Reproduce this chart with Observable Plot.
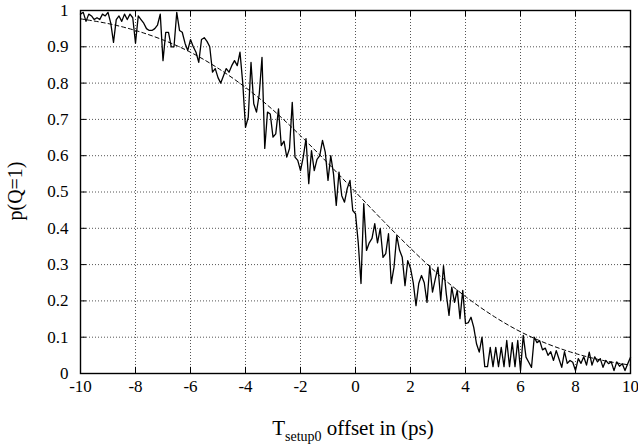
<!DOCTYPE html>
<html>
<head>
<meta charset="utf-8">
<script src="https://cdn.jsdelivr.net/npm/d3@7"></script>
<script src="https://cdn.jsdelivr.net/npm/@observablehq/plot@0.6"></script>
<style>
  html, body { margin: 0; padding: 0; background: #fff; }
  #chart svg { display: block; }
</style>
</head>
<body>
<div id="chart"></div>
<script>
// Measured series: p(Q=1) sampled every 0.1 ps from -10 to 10
const sampleStart = -10;
const sampleStep = 0.1;
const measured = [
  0.99, 0.995, 0.97, 0.99, 0.985, 0.975, 0.98, 0.975, 0.99, 0.985,
  0.995, 0.965, 0.912, 0.975, 0.985, 0.97, 0.99, 0.975, 0.99, 0.98,
  0.91, 0.985, 0.975, 0.965, 0.95, 0.945, 0.945, 0.95, 0.96, 0.99,
  0.862, 0.94, 0.94, 0.9, 0.9, 0.995, 0.945, 0.94, 0.91, 0.89,
  0.92, 0.9, 0.885, 0.857, 0.92, 0.925, 0.915, 0.9, 0.83, 0.84,
  0.815, 0.80, 0.82, 0.84, 0.83, 0.848, 0.862, 0.848, 0.885, 0.80,
  0.678, 0.706, 0.857, 0.743, 0.72, 0.77, 0.871, 0.62, 0.72, 0.715,
  0.651, 0.66, 0.729, 0.628, 0.64, 0.596, 0.62, 0.747, 0.596, 0.587,
  0.559, 0.596, 0.647, 0.523, 0.614, 0.559, 0.59, 0.6, 0.642, 0.61,
  0.532, 0.6, 0.55, 0.463, 0.555, 0.49, 0.472, 0.51, 0.532, 0.449,
  0.44, 0.36, 0.248, 0.468, 0.339, 0.36, 0.372, 0.413, 0.36, 0.4,
  0.32, 0.33, 0.385, 0.248, 0.293, 0.38, 0.34, 0.32, 0.242, 0.311,
  0.29, 0.25, 0.187, 0.248, 0.27, 0.25, 0.196, 0.297, 0.224, 0.26,
  0.293, 0.201, 0.297, 0.22, 0.16, 0.238, 0.196, 0.229, 0.151, 0.229,
  0.137, 0.14, 0.155, 0.127, 0.082, 0.059, 0.1, 0.019, 0.019, 0.072,
  0.019, 0.072, 0.019, 0.072, 0.019, 0.091, 0.019, 0.085, 0.019, 0.091,
  0.008, 0.105, 0.045, 0.031, 0.017, 0.1, 0.085, 0.09, 0.065, 0.07,
  0.05, 0.06, 0.036, 0.063, 0.04, 0.017, 0.06, 0.028, 0.036, 0.031,
  0.008, 0.041, 0.028, 0.046, 0.023, 0.059, 0.023, 0.046, 0.032, 0.041,
  0.017, 0.036, 0.027, 0.032, 0.008, 0.032, 0.02, 0.027, 0.008, 0.027,
  0.045
];

// Fitted (dashed) curve, read at integer offsets
const fitX = [-10, -9, -8, -7, -6, -5, -4, -3, -2, -1, 0, 1, 2, 3, 4, 5, 6, 7, 8, 9, 10];
const fitY = [0.977, 0.964, 0.945, 0.919, 0.885, 0.841, 0.788, 0.726, 0.655, 0.579, 0.5,
              0.421, 0.345, 0.274, 0.212, 0.159, 0.115, 0.081, 0.055, 0.036, 0.023];

// Tick labels
const xTicks = [-10, -8, -6, -4, -2, 0, 2, 4, 6, 8, 10];
const xTickLabels = ["-10", "-8", "-6", "-4", "-2", "0", "2", "4", "6", "8", "10"];
const yTicks = [0, 0.1, 0.2, 0.3, 0.4, 0.5, 0.6, 0.7, 0.8, 0.9, 1];
const yTickLabels = ["0", "0.1", "0.2", "0.3", "0.4", "0.5", "0.6", "0.7", "0.8", "0.9", "1"];

const measuredData = measured.map((v, i) => ({x: +(sampleStart + i * sampleStep).toFixed(1), y: v}));
const fitData = fitX.map((x, i) => ({x, y: fitY[i]}));

const font = "Liberation Serif";
const tickLenX = 0.22;  // in x units
const tickLenY = 0.017; // in y units

const plot = Plot.plot({
  width: 638,
  height: 447,
  marginLeft: 80,
  marginRight: 8,
  marginTop: 10,
  marginBottom: 74,
  style: {fontFamily: font, fontSize: "17px", color: "#000", background: "#fff"},
  x: {domain: [-10, 10], ticks: xTicks},
  y: {domain: [0, 1], ticks: yTicks},
  marks: [
    Plot.gridX(xTicks.slice(1, -1), {stroke: "#555", strokeOpacity: 1, strokeDasharray: "1,2", strokeWidth: 1}),
    Plot.gridY(yTicks.slice(1, -1), {stroke: "#555", strokeOpacity: 1, strokeDasharray: "1,2", strokeWidth: 1}),
    // inward mirrored ticks
    Plot.ruleX(xTicks, {y1: 0, y2: tickLenY, stroke: "#000"}),
    Plot.ruleX(xTicks, {y1: 1, y2: 1 - tickLenY, stroke: "#000"}),
    Plot.ruleY(yTicks, {x1: -10, x2: -10 + tickLenX, stroke: "#000"}),
    Plot.ruleY(yTicks, {x1: 10, x2: 10 - tickLenX, stroke: "#000"}),
    Plot.axisX(xTicks, {anchor: "bottom", tickSize: 0, tickPadding: 6, label: null,
      tickFormat: (d) => xTickLabels[xTicks.indexOf(d)], fontSize: 17}),
    Plot.axisY(yTicks, {anchor: "left", tickSize: 0, tickPadding: 12, label: null,
      tickFormat: (d) => yTickLabels[yTicks.indexOf(d)], fontSize: 17}),
    Plot.line(fitData, {x: "x", y: "y", curve: "natural", stroke: "#000", strokeWidth: 1, strokeDasharray: "4,3"}),
    Plot.line(measuredData, {x: "x", y: "y", stroke: "#000", strokeWidth: 1.3}),
    Plot.frame({stroke: "#000", strokeWidth: 1.4})
  ]
});

document.getElementById("chart").appendChild(plot);

const svg = d3.select(plot);

// x-axis label with subscript
const xl = svg.append("text")
  .attr("x", 353).attr("y", 435)
  .attr("text-anchor", "middle")
  .style("font-family", font)
  .attr("font-size", 21)
  .attr("fill", "#000");
xl.append("tspan").text("T");
xl.append("tspan").attr("dy", 6).attr("font-size", 14).text("setup0");
xl.append("tspan").attr("dy", -6).text(" offset in (ps)");

// y-axis label
svg.append("text")
  .attr("transform", "translate(22,191) rotate(-90)")
  .attr("text-anchor", "middle")
  .style("font-family", font)
  .attr("font-size", 20)
  .attr("fill", "#000")
  .text("p(Q=1)");
</script>
</body>
</html>
